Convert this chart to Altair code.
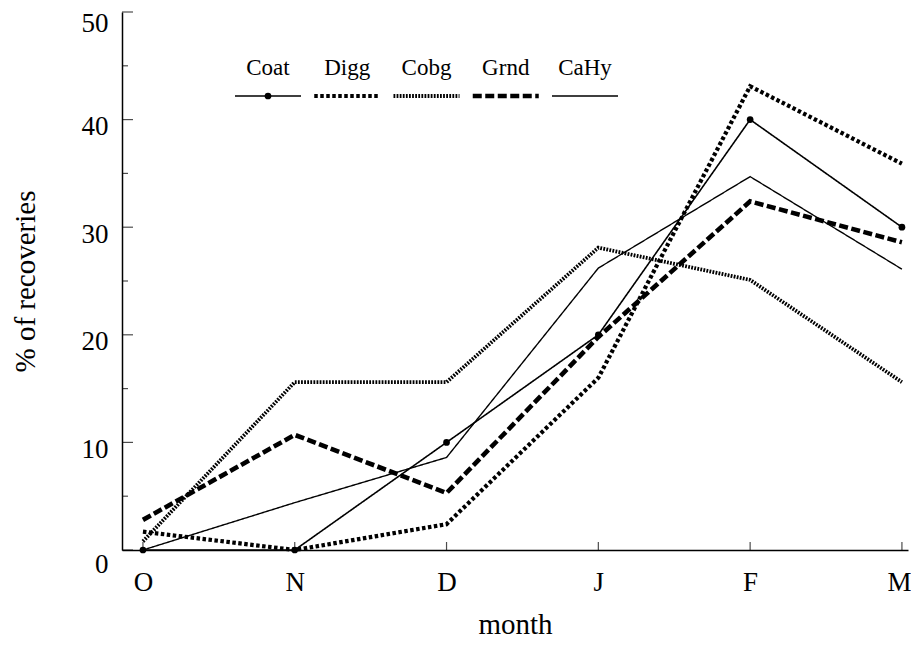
import json
import altair as alt
import pandas as pd

months = ["O", "N", "D", "J", "F", "M"]
series = ["Coat", "Digg", "Cobg", "Grnd", "CaHy"]
coat = [0, 0, 10, 20, 40, 30]
digg = [1.7, 0, 2.4, 16, 43.1, 35.9]
cobg = [0.8, 15.6, 15.6, 28.1, 25.1, 15.6]
grnd = [2.8, 10.7, 5.3, 19.8, 32.4, 28.6]
cahy = [0, 4.4, 8.6, 26.2, 34.7, 26.1]
y_major = [0, 10, 20, 30, 40, 50]
y_minor = [5, 15, 25, 35, 45]

values = {"Coat": coat, "Digg": digg, "Cobg": cobg, "Grnd": grnd, "CaHy": cahy}
rows = []
for s in series:
    for i, m in enumerate(months):
        rows.append({"i": i, "month": m, "v": values[s][i], "series": s})
df = pd.DataFrame(rows)
major_df = pd.DataFrame({"t": y_major})
minor_df = pd.DataFrame({"t": y_minor})
xtick_df = pd.DataFrame({"i": list(range(len(months)))})
leg_df = pd.DataFrame({"series": series})

W, H = 786, 538
FONT = "Liberation Serif"

dashes = [[1, 0], [3.5, 2.5], [1.8, 1.3], [9, 3.5], [1, 0]]
widths = [1.6, 4.2, 3.8, 4.6, 1.4]

xscale = alt.Scale(domain=[-0.138, 5.04], nice=False, zero=False)
yscale = alt.Scale(domain=[0, 50], nice=False)
label_expr = json.dumps(months).replace('"', "'") + "[datum.value]"
last = len(months) - 1

x_enc = alt.X("i:Q", scale=xscale, axis=alt.Axis(
    values=list(range(len(months))), labelExpr=label_expr, ticks=False, grid=False,
    title="month", labelPadding=19, titlePadding=15,
    labelOffset={"condition": {"test": f"datum.value == {last}", "value": -3}, "value": 0}))
y_enc = alt.Y("v:Q", scale=yscale, axis=alt.Axis(
    values=y_major, ticks=False, grid=False, title="% of recoveries",
    labelPadding=14,
    labelOffset={"expr": "datum.value == 0 ? 14 : (datum.value == 50 ? 11 : 7)"},
    titleX=-97, titleY=269, titleBaseline="middle"))

dash_scale = alt.Scale(domain=series, range=dashes)
width_scale = alt.Scale(type="ordinal", domain=series, range=widths)

lines = alt.Chart(df).mark_line(color="black", strokeCap="butt").encode(
    x=x_enc, y=y_enc,
    strokeDash=alt.StrokeDash("series:N", scale=dash_scale, legend=None),
    strokeWidth=alt.StrokeWidth("series:N", scale=width_scale, legend=None),
)

xq = alt.X("i:Q", scale=xscale, axis=None)

coat_pts = alt.Chart(df).transform_filter("datum.series == 'Coat'").mark_point(
    filled=True, color="black", size=45, shape="circle", opacity=1).encode(
    x=xq, y=alt.Y("v:Q", scale=yscale))

ymajor = alt.Chart(major_df).mark_tick(
    orient="horizontal", size=11, thickness=1.2, xOffset=5.5, color="black").encode(
    x=alt.value(0), y=alt.Y("t:Q", scale=yscale))
yminor = alt.Chart(minor_df).mark_tick(
    orient="horizontal", size=6, thickness=1.2, xOffset=3, color="black").encode(
    x=alt.value(0), y=alt.Y("t:Q", scale=yscale))

xticks = alt.Chart(xtick_df).mark_tick(
    orient="vertical", size=8, thickness=1.2, yOffset=-4, color="black").encode(
    x=xq, y=alt.value(H))

# legend drawn inside the plot: labels above line samples
leg_x = alt.X("series:N", scale=alt.Scale(type="point", domain=series,
                                          range=[146, 463], padding=0), axis=None)
leg_lines = alt.Chart(leg_df).mark_rule(
    color="black", strokeCap="butt", xOffset=-33, x2Offset=33).encode(
    x=leg_x, x2=alt.X2("series"), y=alt.value(84),
    strokeDash=alt.StrokeDash("series:N", scale=dash_scale, legend=None),
    strokeWidth=alt.StrokeWidth("series:N", scale=width_scale, legend=None),
)
leg_dot = alt.Chart(leg_df).transform_filter("datum.series == 'Coat'").mark_point(
    filled=True, color="black", size=45, shape="circle", opacity=1).encode(
    x=leg_x, y=alt.value(84))
leg_text = alt.Chart(leg_df).mark_text(
    font=FONT, fontSize=23, baseline="alphabetic", align="center", color="black").encode(
    x=leg_x, y=alt.value(63), text="series:N")

chart = alt.layer(lines, coat_pts, ymajor, yminor, xticks, leg_lines, leg_dot,
                  leg_text).resolve_scale(x="independent").properties(
    width=W, height=H, background="white",
    autosize=alt.AutoSizeParams(type="none"),
    padding={"left": 114, "top": 4, "right": 3, "bottom": 88},
).configure_view(stroke=None).configure_axis(
    labelFont=FONT, labelFontSize=27, labelColor="black",
    titleFont=FONT, titleFontSize=29, titleFontWeight="normal", titleColor="black",
    domainColor="black", domainWidth=1.5,
)

chart.save("out.html", embed_options={"renderer": "svg", "actions": False})
